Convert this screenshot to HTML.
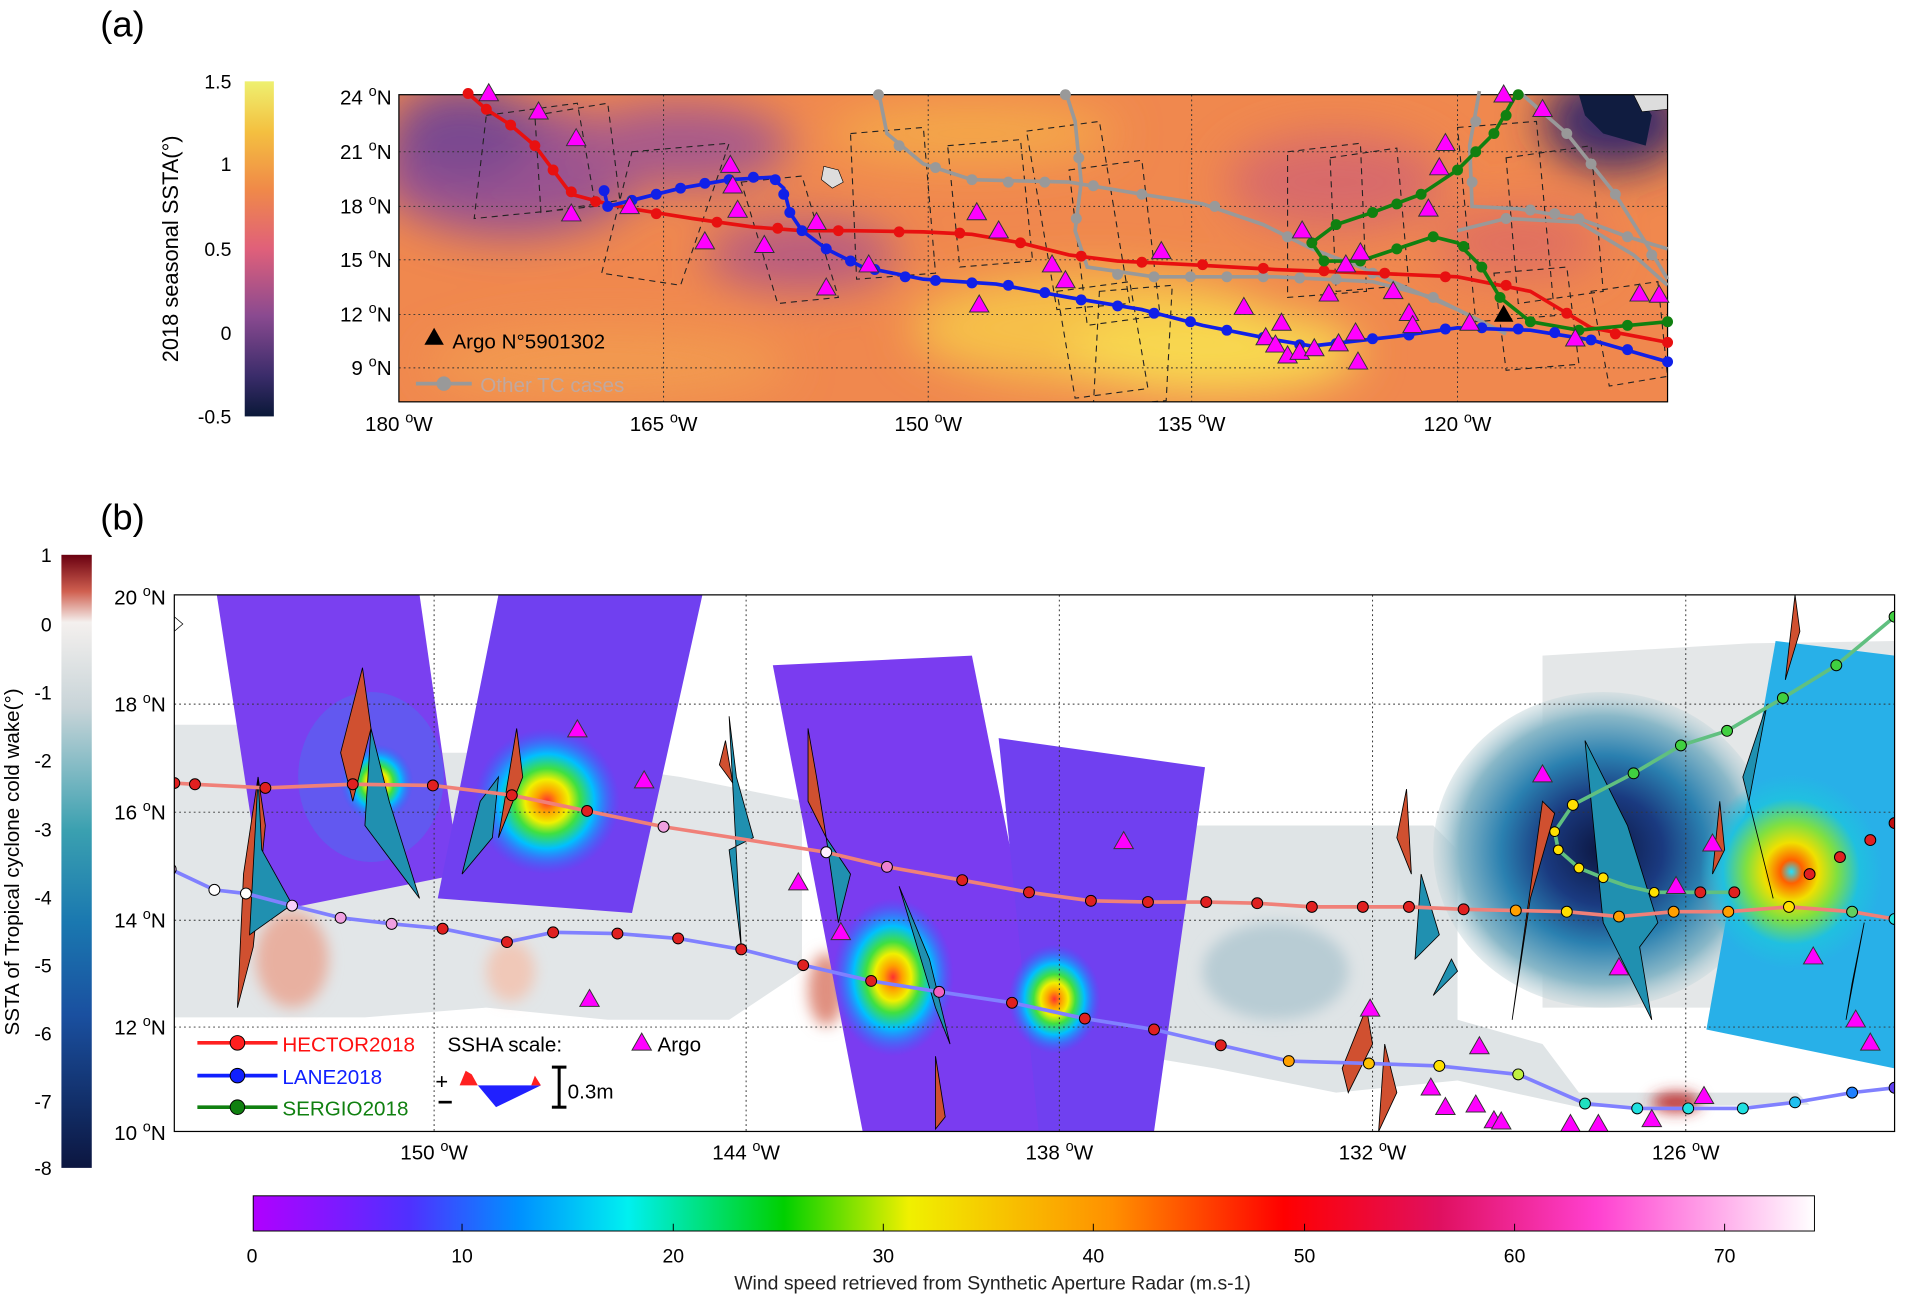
<!DOCTYPE html>
<html><head><meta charset="utf-8"><style>
html,body{margin:0;padding:0;background:#fff}
svg{display:block}
text{font-family:"Liberation Sans",Arial,sans-serif}
</style></head><body>
<svg width="1905" height="1299" viewBox="0 0 1568 1070" xmlns="http://www.w3.org/2000/svg">
<defs>
<linearGradient id="cba" x1="0" y1="1" x2="0" y2="0">
<stop offset="0" stop-color="#0a1838"/><stop offset="0.12" stop-color="#3a2c6a"/><stop offset="0.3" stop-color="#8a4a90"/><stop offset="0.5" stop-color="#e0607a"/><stop offset="0.68" stop-color="#f08a48"/><stop offset="0.85" stop-color="#f4c040"/><stop offset="1" stop-color="#eef070"/></linearGradient>
<linearGradient id="cbb" x1="0" y1="0" x2="0" y2="1">
<stop offset="0" stop-color="#6a0010"/><stop offset="0.06" stop-color="#d06050"/><stop offset="0.11" stop-color="#f4f0ee"/><stop offset="0.25" stop-color="#c8d4d8"/><stop offset="0.45" stop-color="#3aa0b0"/><stop offset="0.6" stop-color="#1a78b0"/><stop offset="0.75" stop-color="#1a50a0"/><stop offset="1" stop-color="#0c1640"/></linearGradient>
<linearGradient id="cbw" x1="0" y1="0" x2="1" y2="0">
<stop offset="0" stop-color="#b000ff"/><stop offset="0.1" stop-color="#5030ff"/><stop offset="0.17" stop-color="#0090ff"/><stop offset="0.24" stop-color="#00f0f0"/><stop offset="0.34" stop-color="#00d000"/><stop offset="0.42" stop-color="#f0f000"/><stop offset="0.55" stop-color="#ff9000"/><stop offset="0.66" stop-color="#ff0000"/><stop offset="0.76" stop-color="#e01060"/><stop offset="0.86" stop-color="#ff40d0"/><stop offset="1" stop-color="#ffffff"/></linearGradient>
<radialGradient id="eye"><stop offset="0" stop-color="#ff3030"/><stop offset="0.15" stop-color="#ffa000"/><stop offset="0.3" stop-color="#f0f000"/><stop offset="0.45" stop-color="#40e040"/><stop offset="0.65" stop-color="#00c0ff"/><stop offset="1" stop-color="#3060ff" stop-opacity="0"/></radialGradient>
<radialGradient id="eye2"><stop offset="0" stop-color="#20e0ff"/><stop offset="0.12" stop-color="#ff6000"/><stop offset="0.3" stop-color="#f0e000"/><stop offset="0.5" stop-color="#80e040"/><stop offset="0.75" stop-color="#20c0e0"/><stop offset="1" stop-color="#20c0e0" stop-opacity="0"/></radialGradient>
<radialGradient id="cold"><stop offset="0" stop-color="#0c1640"/><stop offset="0.35" stop-color="#1a3a80"/><stop offset="0.6" stop-color="#2a80b0"/><stop offset="0.85" stop-color="#8ab8c8"/><stop offset="1" stop-color="#c8d8dc" stop-opacity="0.5"/></radialGradient>
<filter id="bl" x="-50%" y="-50%" width="200%" height="200%"><feGaussianBlur stdDeviation="18"/></filter>
<filter id="bl2" x="-50%" y="-50%" width="200%" height="200%"><feGaussianBlur stdDeviation="6"/></filter>
<clipPath id="ca"><rect x="328" y="78" width="1045" height="253"/></clipPath>
<clipPath id="cb"><rect x="143" y="490" width="1417" height="442"/></clipPath>
<g id="tri"><path d="M0,-8 L8,6 L-8,6Z" fill="#ff00ff" stroke="#333" stroke-width="0.8"/></g>
</defs>

<!-- PANEL A -->
<text x="82" y="30" font-size="30">(a)</text>
<rect x="201" y="67" width="24" height="276" fill="url(#cba)"/>
<g font-size="16" text-anchor="end">
<text x="190" y="73">1.5</text><text x="190" y="141">1</text><text x="190" y="211">0.5</text><text x="190" y="280">0</text><text x="190" y="349">-0.5</text></g>
<text transform="translate(146,205) rotate(-90)" font-size="18" text-anchor="middle">2018 seasonal SSTA(°)</text>

<g clip-path="url(#ca)">
<rect x="328" y="78" width="1045" height="253" fill="#f0884e"/>
<g filter="url(#bl)">
<ellipse cx="420" cy="140" rx="110" ry="55" fill="#9a5290"/>
<ellipse cx="560" cy="120" rx="90" ry="35" fill="#a85a8a"/>
<ellipse cx="380" cy="110" rx="60" ry="40" fill="#7a4a90"/>
<ellipse cx="660" cy="210" rx="80" ry="30" fill="#b85c80"/>
<ellipse cx="900" cy="270" rx="150" ry="45" fill="#f6c048"/>
<ellipse cx="1000" cy="290" rx="120" ry="35" fill="#f8d850"/>
<ellipse cx="800" cy="110" rx="120" ry="25" fill="#f4a848"/>
<ellipse cx="1100" cy="150" rx="90" ry="40" fill="#d86a6a"/>
<ellipse cx="1330" cy="100" rx="60" ry="40" fill="#3a2c6a"/>
<ellipse cx="1250" cy="200" rx="70" ry="30" fill="#e07060"/>
<ellipse cx="500" cy="300" rx="150" ry="30" fill="#f29a50"/>
</g>
<path d="M1300,78 L1350,78 L1360,95 L1355,120 L1320,110 L1305,95Z" fill="#101c40"/>
<path d="M1345,78 L1373,78 L1373,90 L1352,92Z" fill="#ddd" stroke="#000" stroke-width="0.5"/>
<path d="M678,137 L690,140 L694,150 L685,155 L676,148Z" fill="#ddd" stroke="#000" stroke-width="0.5"/>
<g stroke="#333" stroke-width="0.8" stroke-dasharray="1.5,2.5">
<line x1="546" y1="78" x2="546" y2="331"/><line x1="764" y1="78" x2="764" y2="331"/><line x1="981" y1="78" x2="981" y2="331"/><line x1="1200" y1="78" x2="1200" y2="331"/>
<line x1="328" y1="125" x2="1373" y2="125"/><line x1="328" y1="170" x2="1373" y2="170"/><line x1="328" y1="214" x2="1373" y2="214"/><line x1="328" y1="259" x2="1373" y2="259"/><line x1="328" y1="303" x2="1373" y2="303"/></g>
<g fill="none" stroke="#222" stroke-width="0.9" stroke-dasharray="5,4">
<path d="M400,95 L475,85 L490,170 L390,180Z"/><path d="M440,95 L500,85 L510,165 L445,175Z"/>
<path d="M520,125 L600,118 L560,235 L495,225Z"/><path d="M610,150 L660,145 L690,245 L640,250Z"/>
<path d="M700,110 L760,105 L770,225 L705,230Z"/><path d="M780,120 L840,115 L850,215 L790,220Z"/>
<path d="M845,108 L905,100 L930,250 L870,255Z"/><path d="M880,140 L940,132 L955,260 L895,268Z"/>
<path d="M870,240 L930,232 L945,320 L885,328Z"/><path d="M905,240 L965,235 L960,330 L900,335Z"/>
<path d="M1060,125 L1120,118 L1125,240 L1060,245Z"/><path d="M1095,130 L1150,122 L1160,235 L1100,240Z"/>
<path d="M1200,105 L1265,100 L1280,260 L1215,265Z"/><path d="M1240,130 L1310,120 L1320,240 L1250,250Z"/>
<path d="M1310,240 L1365,232 L1373,310 L1325,318Z"/><path d="M1230,225 L1290,220 L1300,300 L1240,305Z"/>
</g>
</g>
<rect x="328" y="78" width="1045" height="253" fill="none" stroke="#000" stroke-width="1"/>
<g>
<g fill="none" stroke="#999" stroke-width="3">
<polyline points="723,75 730,110 760,135 800,148 880,150 940,160 990,168 1040,185 1080,205 1120,220 1160,238 1200,255 1240,275"/>
<polyline points="877,75 885,100 890,150 885,190 895,220 950,228 1050,228 1130,232 1180,245 1210,260"/>
<polyline points="1218,75 1210,120 1212,170 1250,172 1300,180 1340,195 1373,205"/>
<polyline points="1200,190 1240,180 1300,183 1345,210 1373,235"/>
<polyline points="1250,75 1290,110 1330,160 1355,200 1373,230"/>
</g>
<g fill="#999">
<circle cx="723" cy="78" r="4.5"/><circle cx="740" cy="120" r="4.5"/><circle cx="770" cy="138" r="4.5"/><circle cx="800" cy="148" r="4.5"/><circle cx="830" cy="150" r="4.5"/><circle cx="860" cy="150" r="4.5"/><circle cx="900" cy="153" r="4.5"/><circle cx="940" cy="160" r="4.5"/><circle cx="1000" cy="170" r="4.5"/><circle cx="1060" cy="195" r="4.5"/><circle cx="1130" cy="225" r="4.5"/>
<circle cx="877" cy="78" r="4.5"/><circle cx="888" cy="130" r="4.5"/><circle cx="886" cy="180" r="4.5"/><circle cx="920" cy="226" r="4.5"/><circle cx="950" cy="228" r="4.5"/><circle cx="980" cy="228" r="4.5"/><circle cx="1010" cy="228" r="4.5"/><circle cx="1040" cy="228" r="4.5"/><circle cx="1070" cy="229" r="4.5"/><circle cx="1100" cy="230" r="4.5"/><circle cx="1180" cy="245" r="4.5"/>
<circle cx="1215" cy="100" r="4.5"/><circle cx="1212" cy="150" r="4.5"/><circle cx="1260" cy="173" r="4.5"/><circle cx="1280" cy="176" r="4.5"/><circle cx="1300" cy="180" r="4.5"/><circle cx="1340" cy="195" r="4.5"/><circle cx="1290" cy="110" r="4.5"/><circle cx="1310" cy="135" r="4.5"/><circle cx="1330" cy="160" r="4.5"/><circle cx="1360" cy="210" r="4.5"/><circle cx="1240" cy="180" r="4.5"/></g>
<polyline fill="none" stroke="#e81010" stroke-width="3" points="385,77 400,90 420,103 440,120 455,140 470,160 500,168 520,172 570,180 620,187 660,190 700,190 760,191 800,193 840,200 880,210 920,215 980,218 1050,222 1130,225 1200,228 1260,240 1310,270 1373,282"/>
<g fill="#e81010"><circle cx="385" cy="77" r="4.5"/><circle cx="400" cy="90" r="4.5"/><circle cx="420" cy="103" r="4.5"/><circle cx="440" cy="120" r="4.5"/><circle cx="455" cy="140" r="4.5"/><circle cx="470" cy="158" r="4.5"/><circle cx="490" cy="166" r="4.5"/><circle cx="540" cy="176" r="4.5"/><circle cx="590" cy="183" r="4.5"/><circle cx="640" cy="188" r="4.5"/><circle cx="690" cy="190" r="4.5"/><circle cx="740" cy="191" r="4.5"/><circle cx="790" cy="192" r="4.5"/><circle cx="840" cy="200" r="4.5"/><circle cx="890" cy="211" r="4.5"/><circle cx="940" cy="216" r="4.5"/><circle cx="990" cy="218" r="4.5"/><circle cx="1040" cy="221" r="4.5"/><circle cx="1090" cy="223" r="4.5"/><circle cx="1140" cy="225" r="4.5"/><circle cx="1190" cy="228" r="4.5"/><circle cx="1240" cy="235" r="4.5"/><circle cx="1290" cy="258" r="4.5"/><circle cx="1330" cy="275" r="4.5"/><circle cx="1373" cy="282" r="4.5"/></g>
<polyline fill="none" stroke="#108010" stroke-width="3" points="1250,75 1230,110 1200,140 1170,160 1130,175 1100,185 1080,200 1090,215 1120,215 1150,205 1180,195 1200,200 1220,220 1235,245 1260,265 1300,272 1373,265"/>
<g fill="#108010"><circle cx="1250" cy="78" r="4.5"/><circle cx="1240" cy="95" r="4.5"/><circle cx="1230" cy="110" r="4.5"/><circle cx="1215" cy="125" r="4.5"/><circle cx="1200" cy="140" r="4.5"/><circle cx="1170" cy="160" r="4.5"/><circle cx="1150" cy="168" r="4.5"/><circle cx="1130" cy="175" r="4.5"/><circle cx="1100" cy="185" r="4.5"/><circle cx="1080" cy="200" r="4.5"/><circle cx="1090" cy="215" r="4.5"/><circle cx="1120" cy="215" r="4.5"/><circle cx="1150" cy="205" r="4.5"/><circle cx="1180" cy="195" r="4.5"/><circle cx="1205" cy="203" r="4.5"/><circle cx="1220" cy="220" r="4.5"/><circle cx="1235" cy="245" r="4.5"/><circle cx="1260" cy="265" r="4.5"/><circle cx="1300" cy="272" r="4.5"/><circle cx="1340" cy="268" r="4.5"/><circle cx="1373" cy="265" r="4.5"/></g>
<polyline fill="none" stroke="#1020e8" stroke-width="3" points="497,157 500,170 520,165 560,155 600,148 635,146 645,155 650,175 660,190 680,205 710,220 760,230 820,234 880,245 940,255 990,268 1050,280 1080,285 1150,277 1200,270 1260,272 1310,280 1373,298"/>
<g fill="#1020e8"><circle cx="497" cy="157" r="4.5"/><circle cx="500" cy="170" r="4.5"/><circle cx="520" cy="165" r="4.5"/><circle cx="540" cy="160" r="4.5"/><circle cx="560" cy="155" r="4.5"/><circle cx="580" cy="151" r="4.5"/><circle cx="600" cy="148" r="4.5"/><circle cx="620" cy="146" r="4.5"/><circle cx="638" cy="148" r="4.5"/><circle cx="645" cy="160" r="4.5"/><circle cx="650" cy="175" r="4.5"/><circle cx="660" cy="190" r="4.5"/><circle cx="680" cy="205" r="4.5"/><circle cx="700" cy="215" r="4.5"/><circle cx="720" cy="222" r="4.5"/><circle cx="745" cy="228" r="4.5"/><circle cx="770" cy="231" r="4.5"/><circle cx="800" cy="233" r="4.5"/><circle cx="830" cy="235" r="4.5"/><circle cx="860" cy="241" r="4.5"/><circle cx="890" cy="247" r="4.5"/><circle cx="920" cy="252" r="4.5"/><circle cx="950" cy="258" r="4.5"/><circle cx="980" cy="265" r="4.5"/><circle cx="1010" cy="272" r="4.5"/><circle cx="1040" cy="278" r="4.5"/><circle cx="1070" cy="284" r="4.5"/><circle cx="1100" cy="283" r="4.5"/><circle cx="1130" cy="279" r="4.5"/><circle cx="1160" cy="276" r="4.5"/><circle cx="1190" cy="271" r="4.5"/><circle cx="1220" cy="270" r="4.5"/><circle cx="1250" cy="271" r="4.5"/><circle cx="1280" cy="274" r="4.5"/><circle cx="1310" cy="280" r="4.5"/><circle cx="1340" cy="288" r="4.5"/><circle cx="1373" cy="298" r="4.5"/></g>
<use href="#tri" x="402" y="77"/><use href="#tri" x="443" y="92"/><use href="#tri" x="474" y="114"/><use href="#tri" x="470" y="176"/><use href="#tri" x="518" y="170"/><use href="#tri" x="580" y="199"/><use href="#tri" x="601" y="136"/><use href="#tri" x="603" y="153"/><use href="#tri" x="607" y="173"/><use href="#tri" x="629" y="202"/><use href="#tri" x="672" y="183"/><use href="#tri" x="680" y="237"/><use href="#tri" x="715" y="218"/><use href="#tri" x="804" y="175"/><use href="#tri" x="822" y="190"/><use href="#tri" x="806" y="251"/><use href="#tri" x="866" y="218"/><use href="#tri" x="877" y="231"/><use href="#tri" x="956" y="207"/><use href="#tri" x="1024" y="253"/><use href="#tri" x="1055" y="266"/><use href="#tri" x="1042" y="278"/><use href="#tri" x="1050" y="284"/><use href="#tri" x="1060" y="293"/><use href="#tri" x="1070" y="290"/><use href="#tri" x="1082" y="287"/><use href="#tri" x="1102" y="283"/><use href="#tri" x="1116" y="274"/><use href="#tri" x="1118" y="298"/><use href="#tri" x="1072" y="190"/><use href="#tri" x="1094" y="242"/><use href="#tri" x="1108" y="218"/><use href="#tri" x="1120" y="208"/><use href="#tri" x="1147" y="240"/><use href="#tri" x="1160" y="258"/><use href="#tri" x="1163" y="268"/><use href="#tri" x="1176" y="172"/><use href="#tri" x="1185" y="138"/><use href="#tri" x="1190" y="118"/><use href="#tri" x="1210" y="266"/><use href="#tri" x="1238" y="78"/><use href="#tri" x="1270" y="90"/><use href="#tri" x="1297" y="279"/><use href="#tri" x="1350" y="242"/><use href="#tri" x="1366" y="243"/>
<path d="M1238,251 L1246,265 L1230,265Z" fill="#000"/>
</g>
<path d="M357,270 L365,284 L349,284Z" fill="#000"/>
<text x="372" y="287" font-size="17">Argo N°5901302</text>
<line x1="342" y1="316" x2="388" y2="316" stroke="#999" stroke-width="3"/><circle cx="365" cy="316" r="6" fill="#999"/>
<text x="395" y="323" font-size="17" fill="#c0a8a0">Other TC cases</text>
<g font-size="17" text-anchor="end">
<text x="322" y="86">24 <tspan dy="-7" font-size="12">o</tspan><tspan dy="7">N</tspan></text>
<text x="322" y="131">21 <tspan dy="-7" font-size="12">o</tspan><tspan dy="7">N</tspan></text>
<text x="322" y="176">18 <tspan dy="-7" font-size="12">o</tspan><tspan dy="7">N</tspan></text>
<text x="322" y="220">15 <tspan dy="-7" font-size="12">o</tspan><tspan dy="7">N</tspan></text>
<text x="322" y="265">12 <tspan dy="-7" font-size="12">o</tspan><tspan dy="7">N</tspan></text>
<text x="322" y="309">9 <tspan dy="-7" font-size="12">o</tspan><tspan dy="7">N</tspan></text></g>
<g font-size="17" text-anchor="middle">
<text x="328" y="355">180 <tspan dy="-7" font-size="12">o</tspan><tspan dy="7">W</tspan></text>
<text x="546" y="355">165 <tspan dy="-7" font-size="12">o</tspan><tspan dy="7">W</tspan></text>
<text x="764" y="355">150 <tspan dy="-7" font-size="12">o</tspan><tspan dy="7">W</tspan></text>
<text x="981" y="355">135 <tspan dy="-7" font-size="12">o</tspan><tspan dy="7">W</tspan></text>
<text x="1200" y="355">120 <tspan dy="-7" font-size="12">o</tspan><tspan dy="7">W</tspan></text></g>

<!-- PANEL B -->
<text x="82" y="436" font-size="30">(b)</text>
<rect x="50" y="457" width="25" height="505" fill="url(#cbb)"/>
<g font-size="16" text-anchor="end">
<text x="42" y="463">1</text><text x="42" y="520">0</text><text x="42" y="576">-1</text><text x="42" y="632">-2</text><text x="42" y="689">-3</text><text x="42" y="745">-4</text><text x="42" y="801">-5</text><text x="42" y="857">-6</text><text x="42" y="913">-7</text><text x="42" y="968">-8</text></g>
<text transform="translate(15,710) rotate(-90)" font-size="17" text-anchor="middle">SSTA of Tropical cyclone cold wake(°)</text>

<g clip-path="url(#cb)">
<rect x="143" y="490" width="1417" height="442" fill="#fff"/>
<path d="M143,597 L200,597 L200,620 L420,620 L560,640 L660,660 L660,800 L600,840 L500,840 L400,830 L300,838 L143,838Z" fill="#e2e6e8"/>
<path d="M900,680 L1180,680 L1200,700 L1200,840 L1270,860 L1300,900 L1480,900 L1490,910 L1300,912 L1200,890 L1100,900 L1000,880 L940,870 L900,830Z" fill="#dfe4e6"/>
<path d="M1270,540 L1440,530 L1560,528 L1560,830 L1270,830Z" fill="#e4e7e8"/>
<g filter="url(#bl2)">
<ellipse cx="240" cy="790" rx="30" ry="40" fill="#e8b0a0"/>
<ellipse cx="420" cy="800" rx="20" ry="25" fill="#f0c8b8"/>
<ellipse cx="680" cy="815" rx="15" ry="30" fill="#e09080"/>
<ellipse cx="1050" cy="800" rx="60" ry="40" fill="#b8ccd4"/>
<ellipse cx="1380" cy="908" rx="20" ry="8" fill="#c03030"/>
</g>
<ellipse cx="1320" cy="700" rx="140" ry="130" fill="url(#cold)"/>
<g>
<path d="M178,490 L345,490 L378,720 L218,752Z" fill="#7a40f0"/>
<path d="M410,490 L578,490 L520,752 L360,740Z" fill="#7040f0"/>
<path d="M636,548 L800,540 L878,932 L710,932Z" fill="#7a3cf0"/>
<path d="M822,608 L992,632 L950,932 L855,932Z" fill="#7040f0"/>
<path d="M1462,528 L1560,540 L1560,880 L1405,848Z" fill="#28b0e8"/>
<ellipse cx="305" cy="640" rx="60" ry="70" fill="#4a70f0" opacity="0.5"/>
<ellipse cx="310" cy="645" rx="30" ry="32" fill="url(#eye)"/>
<ellipse cx="450" cy="660" rx="60" ry="60" fill="url(#eye)"/>
<ellipse cx="735" cy="805" rx="50" ry="65" fill="url(#eye)"/>
<ellipse cx="868" cy="823" rx="38" ry="45" fill="url(#eye)"/>
<ellipse cx="1475" cy="718" rx="75" ry="80" fill="url(#eye2)"/>
</g>
<g stroke="#333" stroke-width="0.8" stroke-dasharray="1.5,2.5">
<line x1="357" y1="490" x2="357" y2="932"/><line x1="614" y1="490" x2="614" y2="932"/><line x1="872" y1="490" x2="872" y2="932"/><line x1="1130" y1="490" x2="1130" y2="932"/><line x1="1388" y1="490" x2="1388" y2="932"/>
<line x1="143" y1="580" x2="1560" y2="580"/><line x1="143" y1="669" x2="1560" y2="669"/><line x1="143" y1="758" x2="1560" y2="758"/><line x1="143" y1="846" x2="1560" y2="846"/></g>
<g stroke="#000" stroke-width="0.7">
<path d="M212,640 L218,680 L208,780 L195,830 L200,720Z" fill="#d05030"/>
<path d="M212,640 L215,700 L240,745 L205,770 Z" fill="#2090b0"/>
<path d="M298,550 L305,600 L290,660 L280,620Z" fill="#d05030"/>
<path d="M305,600 L320,660 L345,740 L300,680Z" fill="#2090b0"/>
<path d="M425,600 L430,640 L410,690Z" fill="#d05030"/>
<path d="M410,640 L405,690 L380,720 L395,660Z" fill="#2090b0"/>
<path d="M600,590 L606,640 L620,690 L600,700 L610,780Z" fill="#2090b0"/>
<path d="M597,610 L603,645 L592,630Z" fill="#d05030"/>
<path d="M665,600 L672,640 L680,690 L665,660Z" fill="#d05030"/>
<path d="M680,690 L700,720 L690,760Z" fill="#2090b0"/>
<path d="M740,730 L765,790 L782,860 L770,830Z" fill="#2090b0"/>
<path d="M770,870 L778,920 L770,930Z" fill="#d05030"/>
<path d="M1125,830 L1130,860 L1110,900 L1105,880Z" fill="#d05030"/>
<path d="M1158,650 L1162,720 L1150,690Z" fill="#d05030"/>
<path d="M1170,720 L1185,770 L1165,790Z" fill="#2090b0"/>
<path d="M1195,790 L1200,800 L1180,820Z" fill="#2090b0"/>
<path d="M1140,860 L1150,900 L1135,932Z" fill="#d05030"/>
<path d="M1270,660 L1280,670 L1260,740 L1245,840Z" fill="#d05030"/>
<path d="M1305,610 L1340,680 L1365,760 L1350,780 L1360,840 L1320,760Z" fill="#2090b0"/>
<path d="M1478,490 L1482,520 L1470,560Z" fill="#d05030"/>
<path d="M1455,580 L1435,640 L1460,740 L1440,660Z" fill="#2090b0"/>
<path d="M1416,660 L1420,700 L1410,720Z" fill="#d05030"/>
<path d="M1535,760 L1525,810 L1520,840Z" fill="#d05030"/>
</g>
<polyline fill="none" stroke="#8080ff" stroke-width="3" points="140,716 176,733 202,736 240,746 280,756 322,761 364,765 417,776 455,768 508,769 558,773 610,782 661,795 717,808 773,817 833,826 893,839 950,848 1005,861 1061,874 1127,876 1185,878 1250,885 1305,909 1348,913 1390,913 1435,913 1478,908 1525,900 1560,896"/>
<polyline fill="none" stroke="#f08078" stroke-width="3" points="143,645 160,646 218,649 290,646 356,647 421,655 483,668 546,681 680,702 730,714 792,725 847,735 898,742 945,743 993,743 1035,744 1080,747 1122,747 1160,747 1205,749 1248,750 1290,751 1333,755 1378,751 1423,751 1473,747 1525,751 1560,757"/>
<polyline fill="none" stroke="#60c080" stroke-width="3" points="1560,508 1512,548 1468,575 1422,602 1384,614 1345,637 1295,663 1280,685 1283,700 1300,715 1320,723 1340,730 1362,735 1400,735 1428,735"/>
<g stroke="#000" stroke-width="0.8">
<circle cx="143" cy="645" r="4.5" fill="#e02020"/><circle cx="160" cy="646" r="4.5" fill="#e02020"/><circle cx="218" cy="649" r="4.5" fill="#e02020"/><circle cx="290" cy="646" r="4.5" fill="#e02020"/><circle cx="356" cy="647" r="4.5" fill="#e02020"/><circle cx="421" cy="655" r="4.5" fill="#e02020"/><circle cx="483" cy="668" r="4.5" fill="#e02020"/><circle cx="546" cy="681" r="4.5" fill="#f0a0e0"/><circle cx="680" cy="702" r="4.5" fill="#fff0ff"/><circle cx="730" cy="714" r="4.5" fill="#f080d0"/><circle cx="792" cy="725" r="4.5" fill="#e02020"/><circle cx="847" cy="735" r="4.5" fill="#e02020"/><circle cx="898" cy="742" r="4.5" fill="#e02020"/><circle cx="945" cy="743" r="4.5" fill="#e02020"/><circle cx="993" cy="743" r="4.5" fill="#e02020"/><circle cx="1035" cy="744" r="4.5" fill="#e02020"/><circle cx="1080" cy="747" r="4.5" fill="#e02020"/><circle cx="1122" cy="747" r="4.5" fill="#e02020"/><circle cx="1160" cy="747" r="4.5" fill="#e02020"/><circle cx="1205" cy="749" r="4.5" fill="#e02020"/><circle cx="1248" cy="750" r="4.5" fill="#ffa000"/><circle cx="1290" cy="751" r="4.5" fill="#ffe000"/><circle cx="1333" cy="755" r="4.5" fill="#ffa000"/><circle cx="1378" cy="751" r="4.5" fill="#ffa000"/><circle cx="1423" cy="751" r="4.5" fill="#ffa000"/><circle cx="1473" cy="747" r="4.5" fill="#ffe000"/><circle cx="1525" cy="751" r="4.5" fill="#60d060"/><circle cx="1560" cy="757" r="4.5" fill="#20e0e0"/>
<circle cx="140" cy="716" r="4.5" fill="#f0c0f0"/><circle cx="176" cy="733" r="4.5" fill="#fff"/><circle cx="202" cy="736" r="4.5" fill="#fff"/><circle cx="240" cy="746" r="4.5" fill="#f8d0f8"/><circle cx="280" cy="756" r="4.5" fill="#f0a0e0"/><circle cx="322" cy="761" r="4.5" fill="#f0a0e0"/><circle cx="364" cy="765" r="4.5" fill="#e02020"/><circle cx="417" cy="776" r="4.5" fill="#e02020"/><circle cx="455" cy="768" r="4.5" fill="#e02020"/><circle cx="508" cy="769" r="4.5" fill="#e02020"/><circle cx="558" cy="773" r="4.5" fill="#e02020"/><circle cx="610" cy="782" r="4.5" fill="#e02020"/><circle cx="661" cy="795" r="4.5" fill="#e02020"/><circle cx="717" cy="808" r="4.5" fill="#e02020"/><circle cx="773" cy="817" r="4.5" fill="#f060c0"/><circle cx="833" cy="826" r="4.5" fill="#e02020"/><circle cx="893" cy="839" r="4.5" fill="#e02020"/><circle cx="950" cy="848" r="4.5" fill="#e02020"/><circle cx="1005" cy="861" r="4.5" fill="#e02020"/><circle cx="1061" cy="874" r="4.5" fill="#ffa000"/><circle cx="1127" cy="876" r="4.5" fill="#ffc000"/><circle cx="1185" cy="878" r="4.5" fill="#ffe000"/><circle cx="1250" cy="885" r="4.5" fill="#c0f040"/><circle cx="1305" cy="909" r="4.5" fill="#20e0c0"/><circle cx="1348" cy="913" r="4.5" fill="#20e0e0"/><circle cx="1390" cy="913" r="4.5" fill="#20e0e0"/><circle cx="1435" cy="913" r="4.5" fill="#20e0e0"/><circle cx="1478" cy="908" r="4.5" fill="#20c0f0"/><circle cx="1525" cy="900" r="4.5" fill="#2080ff"/><circle cx="1560" cy="896" r="4.5" fill="#6040f0"/>
<circle cx="1560" cy="508" r="4.5" fill="#40d040"/><circle cx="1512" cy="548" r="4.5" fill="#40d040"/><circle cx="1468" cy="575" r="4.5" fill="#40d040"/><circle cx="1422" cy="602" r="4.5" fill="#40d040"/><circle cx="1384" cy="614" r="4.5" fill="#40d040"/><circle cx="1345" cy="637" r="4.5" fill="#40d040"/><circle cx="1295" cy="663" r="4.5" fill="#ffe000"/><circle cx="1280" cy="685" r="4" fill="#ffe000"/><circle cx="1283" cy="700" r="4" fill="#ffe000"/><circle cx="1300" cy="715" r="4" fill="#ffe000"/><circle cx="1320" cy="723" r="4" fill="#ffe000"/><circle cx="1362" cy="735" r="4" fill="#ffe000"/><circle cx="1400" cy="735" r="4.5" fill="#e02020"/><circle cx="1428" cy="735" r="4.5" fill="#e02020"/><circle cx="1490" cy="720" r="4.5" fill="#e02020"/><circle cx="1515" cy="706" r="4.5" fill="#e02020"/><circle cx="1540" cy="692" r="4.5" fill="#e02020"/><circle cx="1560" cy="678" r="4.5" fill="#c01010"/>
</g>
<use href="#tri" x="475" y="601"/><use href="#tri" x="530" y="643"/><use href="#tri" x="485" y="823"/><use href="#tri" x="657" y="727"/><use href="#tri" x="692" y="768"/><use href="#tri" x="925" y="693"/><use href="#tri" x="1128" y="831"/><use href="#tri" x="1218" y="862"/><use href="#tri" x="1178" y="896"/><use href="#tri" x="1190" y="912"/><use href="#tri" x="1215" y="910"/><use href="#tri" x="1230" y="923"/><use href="#tri" x="1236" y="924"/><use href="#tri" x="1270" y="638"/><use href="#tri" x="1293" y="926"/><use href="#tri" x="1316" y="926"/><use href="#tri" x="1333" y="797"/><use href="#tri" x="1360" y="922"/><use href="#tri" x="1380" y="730"/><use href="#tri" x="1403" y="903"/><use href="#tri" x="1410" y="695"/><use href="#tri" x="1493" y="788"/><use href="#tri" x="1528" y="840"/><use href="#tri" x="1540" y="859"/>
<line x1="162" y1="859" x2="228" y2="859" stroke="#ff2020" stroke-width="3"/><circle cx="195" cy="859" r="6" fill="#ff2020" stroke="#000" stroke-width="0.8"/>
<text x="232" y="866" font-size="17" fill="#ff1010">HECTOR2018</text>
<line x1="162" y1="886" x2="228" y2="886" stroke="#1020ff" stroke-width="3"/><circle cx="195" cy="886" r="6" fill="#1020ff" stroke="#000" stroke-width="0.8"/>
<text x="232" y="893" font-size="17" fill="#1020ff">LANE2018</text>
<line x1="162" y1="912" x2="228" y2="912" stroke="#108010" stroke-width="3"/><circle cx="195" cy="912" r="6" fill="#108010" stroke="#000" stroke-width="0.8"/>
<text x="232" y="919" font-size="17" fill="#108010">SERGIO2018</text>
<text x="368" y="866" font-size="17">SSHA scale:</text>
<use href="#tri" x="528" y="859"/><text x="541" y="866" font-size="17">Argo</text>
<text x="358" y="897" font-size="18">+</text><text x="360" y="914" font-size="22" font-weight="bold">–</text>
<path d="M378,894 L383,882 L388,885 L393,894Z" fill="#ff2020"/>
<path d="M393,894 L445,894 L408,912Z" fill="#2020ff"/>
<path d="M437,894 L440,886 L445,894Z" fill="#ff2020"/>
<line x1="460" y1="879" x2="460" y2="912" stroke="#000" stroke-width="2.5"/><line x1="454" y1="879" x2="466" y2="879" stroke="#000" stroke-width="2.5"/><line x1="454" y1="912" x2="466" y2="912" stroke="#000" stroke-width="2.5"/>
<text x="467" y="905" font-size="17">0.3m</text>
<path d="M143,508 L150,514 L143,520Z" fill="#fff" stroke="#000" stroke-width="0.6"/>
</g>
<rect x="143" y="490" width="1417" height="442" fill="none" stroke="#000" stroke-width="1"/>
<g font-size="17" text-anchor="end">
<text x="136" y="498">20 <tspan dy="-7" font-size="12">o</tspan><tspan dy="7">N</tspan></text>
<text x="136" y="586">18 <tspan dy="-7" font-size="12">o</tspan><tspan dy="7">N</tspan></text>
<text x="136" y="675">16 <tspan dy="-7" font-size="12">o</tspan><tspan dy="7">N</tspan></text>
<text x="136" y="764">14 <tspan dy="-7" font-size="12">o</tspan><tspan dy="7">N</tspan></text>
<text x="136" y="852">12 <tspan dy="-7" font-size="12">o</tspan><tspan dy="7">N</tspan></text>
<text x="136" y="939">10 <tspan dy="-7" font-size="12">o</tspan><tspan dy="7">N</tspan></text></g>
<g font-size="17" text-anchor="middle">
<text x="357" y="955">150 <tspan dy="-7" font-size="12">o</tspan><tspan dy="7">W</tspan></text>
<text x="614" y="955">144 <tspan dy="-7" font-size="12">o</tspan><tspan dy="7">W</tspan></text>
<text x="872" y="955">138 <tspan dy="-7" font-size="12">o</tspan><tspan dy="7">W</tspan></text>
<text x="1130" y="955">132 <tspan dy="-7" font-size="12">o</tspan><tspan dy="7">W</tspan></text>
<text x="1388" y="955">126 <tspan dy="-7" font-size="12">o</tspan><tspan dy="7">W</tspan></text></g>

<rect x="208" y="985" width="1286" height="29" fill="url(#cbw)" stroke="#000" stroke-width="0.8"/>
<g stroke="#000" stroke-width="0.8">
<line x1="380" y1="1008" x2="380" y2="1014"/><line x1="554" y1="1008" x2="554" y2="1014"/><line x1="727" y1="1008" x2="727" y2="1014"/><line x1="900" y1="1008" x2="900" y2="1014"/><line x1="1074" y1="1008" x2="1074" y2="1014"/><line x1="1247" y1="1008" x2="1247" y2="1014"/><line x1="1420" y1="1008" x2="1420" y2="1014"/></g>
<g font-size="16" text-anchor="middle">
<text x="207" y="1040">0</text><text x="380" y="1040">10</text><text x="554" y="1040">20</text><text x="727" y="1040">30</text><text x="900" y="1040">40</text><text x="1074" y="1040">50</text><text x="1247" y="1040">60</text><text x="1420" y="1040">70</text></g>
<text x="817" y="1062" font-size="16" text-anchor="middle" fill="#222">Wind speed retrieved from Synthetic Aperture Radar (m.s-1)</text>
</svg>
</body></html>
